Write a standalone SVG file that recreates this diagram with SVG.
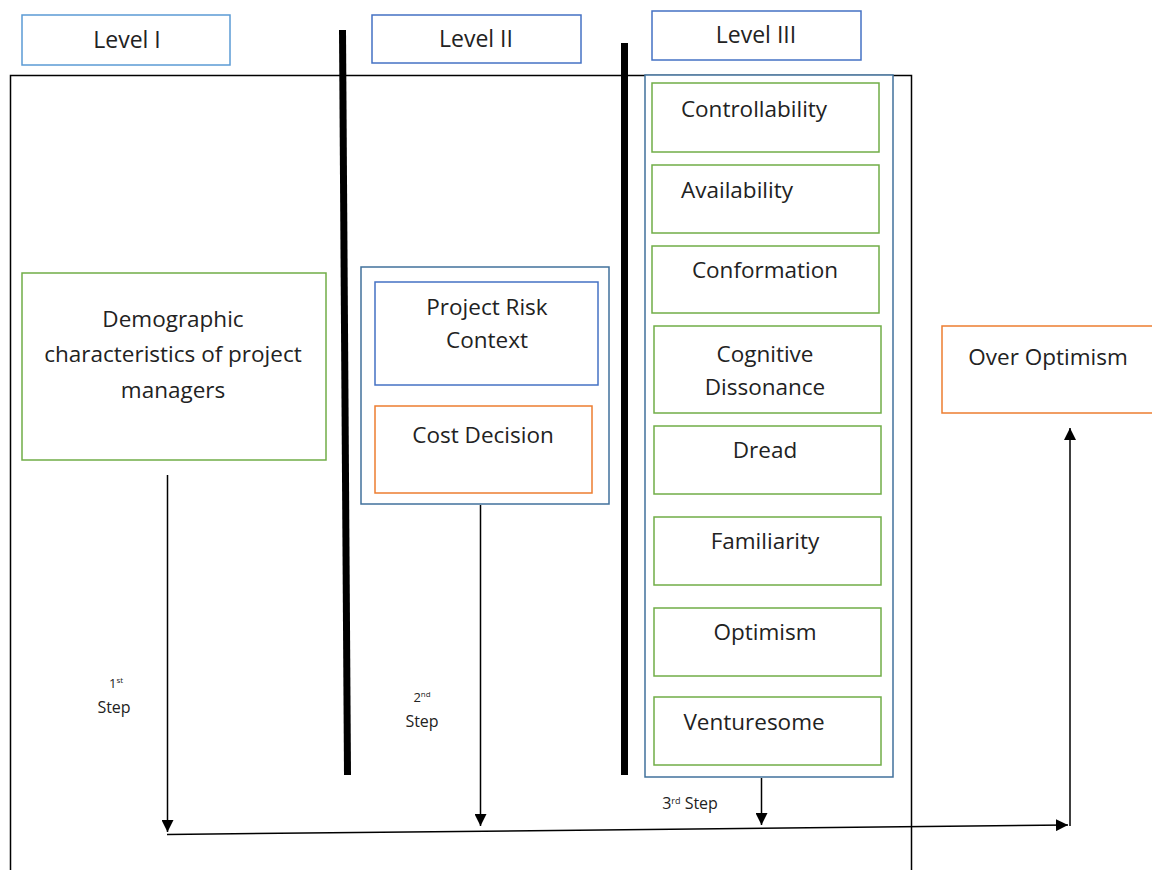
<svg xmlns="http://www.w3.org/2000/svg" width="1152" height="870" viewBox="0 0 1152 870">
<style>
text{font-family:"Open Sans","Liberation Sans",sans-serif;fill:#222;text-anchor:middle}
.t{font-size:22.5px}
.lv{font-size:23px}
.s{font-size:16px}
.sup{font-size:13px}
rect{fill:#fff;stroke-width:1.5}
.g{stroke:#70AD47}
.b{stroke:#4472C4}
.lb{stroke:#5B9BD5}
.o{stroke:#ED7D31}
.c{stroke:#41719C}
.ln{stroke:#000;stroke-width:1.5;fill:none}
</style>
<defs>
<marker id="ah" viewBox="0 0 10 10" refX="10" refY="5" markerWidth="12" markerHeight="12" markerUnits="userSpaceOnUse" orient="auto">
<path d="M0,0 L10,5 L0,10 z" fill="#000"/>
</marker>
</defs>
<rect x="10.5" y="75.5" width="901" height="800" style="fill:none;stroke:#000;stroke-width:1.5"/>
<g id="level1"><rect class="lb" x="22" y="15" width="208" height="50"/><text class="lv" x="127" y="48">Level I</text></g>
<g id="level2"><rect class="b" x="372" y="15" width="209" height="48"/><text class="lv" x="476" y="47">Level II</text></g>
<g id="level3"><rect class="b" x="652" y="11" width="209" height="49"/><text class="lv" x="756" y="43">Level III</text></g>
<g id="dividers">
<line x1="342.5" y1="30" x2="347.5" y2="775" stroke="#000" stroke-width="7"/>
<line x1="624.5" y1="43" x2="624.5" y2="775" stroke="#000" stroke-width="7"/>
</g>
<g id="demographic"><rect class="g" x="22" y="273" width="304" height="187"/>
<text class="t" x="173" y="327">Demographic</text>
<text class="t" x="173" y="362">characteristics of project</text>
<text class="t" x="173" y="398">managers</text></g>
<g id="level2group"><rect class="c" x="361" y="267" width="248" height="237"/></g>
<g id="riskcontext"><rect class="b" x="375" y="282" width="223" height="103"/>
<text class="t" x="487" y="315">Project Risk</text><text class="t" x="487" y="348">Context</text></g>
<g id="costdecision"><rect class="o" x="375" y="406" width="217" height="87"/>
<text class="t" x="483" y="443">Cost Decision</text></g>
<g id="level3group"><rect class="c" x="645" y="75" width="248" height="702"/></g>
<g id="controllability"><rect class="g" x="652" y="83" width="227" height="69"/><text class="t" x="754" y="117">Controllability</text></g>
<g id="availability"><rect class="g" x="652" y="165" width="227" height="68"/><text class="t" x="737" y="198">Availability</text></g>
<g id="conformation"><rect class="g" x="652" y="246" width="227" height="67"/><text class="t" x="765" y="278">Conformation</text></g>
<g id="cognitive"><rect class="g" x="654" y="326" width="227" height="87"/><text class="t" x="765" y="362">Cognitive</text><text class="t" x="765" y="395">Dissonance</text></g>
<g id="dread"><rect class="g" x="654" y="426" width="227" height="68"/><text class="t" x="765" y="458">Dread</text></g>
<g id="familiarity"><rect class="g" x="654" y="517" width="227" height="68"/><text class="t" x="765" y="549">Familiarity</text></g>
<g id="optimism"><rect class="g" x="654" y="608" width="227" height="68"/><text class="t" x="765" y="640">Optimism</text></g>
<g id="venturesome"><rect class="g" x="654" y="697" width="227" height="68"/><text class="t" x="754" y="730">Venturesome</text></g>
<g id="overoptimism"><rect class="o" x="942" y="326" width="215" height="87"/><text class="t" x="1048" y="365">Over Optimism</text></g>
<g id="connectors">
<line class="ln" x1="167.5" y1="475" x2="167.5" y2="832" marker-end="url(#ah)"/>
<line class="ln" x1="480.5" y1="505" x2="480.5" y2="826" marker-end="url(#ah)"/>
<line class="ln" x1="761.5" y1="778" x2="761.5" y2="825" marker-end="url(#ah)"/>
<line class="ln" x1="167" y1="834.5" x2="1068" y2="825" marker-end="url(#ah)"/>
<line class="ln" x1="1070" y1="826" x2="1070" y2="428" marker-end="url(#ah)"/>
</g>
<g id="labels">
<text class="s" x="114" y="713">Step</text><text class="sup" x="116" y="688">1<tspan dy="-5" font-size="8">st</tspan></text>
<text class="s" x="422" y="727">Step</text><text class="sup" x="422" y="702">2<tspan dy="-5" font-size="8">nd</tspan></text>
<text class="s" x="690" y="809">3<tspan dy="-5" font-size="9">rd</tspan><tspan dy="5"> Step</tspan></text>
</g>
</svg>
